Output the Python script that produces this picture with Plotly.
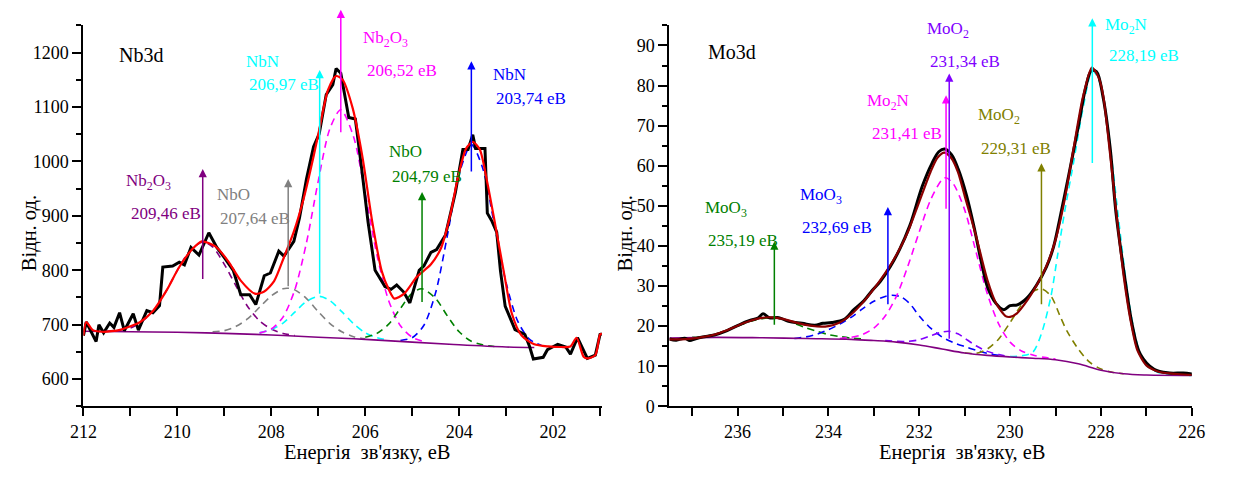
import plotly.graph_objects as go

FONT = "Liberation Serif"

# ---------------- Nb 3d spectrum ----------------
nb_exp_E = [212.0, 211.94, 211.73, 211.67, 211.57, 211.44, 211.35, 211.23, 211.13, 210.94,
            210.83, 210.65, 210.52, 210.38, 210.31, 210.10, 209.96, 209.85, 209.71, 209.54,
            209.33, 209.16, 208.98, 208.81, 208.65, 208.46, 208.33, 208.15, 208.02, 207.84,
            207.73, 207.52, 207.40, 207.25, 207.10, 206.98, 206.83, 206.69, 206.62, 206.52,
            206.35, 206.21, 206.08, 205.94, 205.79, 205.58, 205.45, 205.33, 205.18, 205.05,
            204.85, 204.75, 204.60, 204.48, 204.29, 204.08, 203.92, 203.81, 203.71, 203.65,
            203.45, 203.40, 203.30, 203.20, 203.12, 203.02, 202.81, 202.60, 202.50, 202.42,
            202.21, 202.12, 201.90, 201.73, 201.63, 201.48, 201.27, 201.10, 201.00, 200.96]
nb_exp_I = [680, 705, 669, 700, 685, 703, 695, 722, 689, 720,
            690, 726, 722, 735, 806, 808, 815, 810, 842, 828,
            869, 842, 821, 800, 755, 755, 737, 790, 795, 835,
            826, 853, 896, 968, 1027, 1051, 1123, 1141, 1171, 1162,
            1081, 1078, 990, 889, 800, 770, 765, 773, 760, 740,
            800, 808, 833, 838, 865, 943, 1022, 1022, 1049, 1024,
            1024, 905, 890, 870, 799, 734, 691, 682, 660, 637,
            640, 654, 664, 659, 646, 676, 638, 644, 682, 683]

nb_fit_E = [212.0, 211.94, 211.8, 211.6, 211.4, 211.2, 211.0, 210.79, 210.52, 210.23,
            209.96, 209.69, 209.48, 209.19, 208.92, 208.65, 208.35, 208.15, 207.94, 207.73,
            207.52, 207.31, 207.10, 206.98, 206.79, 206.62, 206.48, 206.27, 206.06, 205.85,
            205.65, 205.50, 205.38, 205.17, 204.90, 204.60, 204.38, 204.19, 204.02, 203.85,
            203.71, 203.56, 203.40, 203.23, 203.04, 202.88, 202.67, 202.40, 202.10, 201.83,
            201.63, 201.50, 201.35, 201.27, 201.10, 201.00, 200.96]
nb_fit_I = [680, 705, 690, 687, 688, 691, 697, 705, 725, 763,
            806, 838, 853, 844, 817, 781, 757, 761, 780, 824,
            871, 932, 1009, 1058, 1132, 1157, 1150, 1099, 1009, 889,
            799, 765, 748, 757, 788, 811, 842, 901, 973, 1024,
            1036, 1022, 961, 883, 793, 721, 680, 664, 660, 659,
            660, 676, 641, 638, 644, 682, 683]

nb_bg_E = [212.0, 211.0, 210.0, 209.0, 208.0, 207.0, 206.0, 205.0, 204.0, 203.0, 202.4]
nb_bg_I = [688, 687, 686, 684, 681, 677, 673, 668, 663, 659, 658]

# fitted components
nb2o3_a_E = [211.5, 211.25, 211.0, 210.75, 210.5, 210.25, 210.0, 209.75, 209.46, 209.25,
             209.0, 208.75, 208.5, 208.25, 208.0, 207.75, 207.5]
nb2o3_a_I = [688, 690, 694, 706, 727, 760, 800, 834, 852, 843,
             811, 771, 733, 707, 692, 684, 680]

nbo_a_E = [209.25, 209.0, 208.75, 208.5, 208.25, 208.0, 207.75, 207.64, 207.5, 207.25,
           207.0, 206.75, 206.5, 206.25, 206.0]
nbo_a_I = [687, 689, 697, 711, 732, 753, 766, 767, 764, 748,
           724, 702, 687, 678, 674]

nbn_a_E = [208.25, 208.0, 207.75, 207.5, 207.25, 206.97, 206.75, 206.5, 206.25, 206.0,
           205.75, 205.5]
nbn_a_I = [685, 691, 703, 723, 743, 752, 744, 724, 702, 685, 676, 672]

nb2o3_b_E = [208.25, 208.0, 207.75, 207.5, 207.25, 207.0, 206.75, 206.52, 206.25, 206.0,
             205.75, 205.5, 205.25, 205.0, 204.75]
nb2o3_b_I = [685, 692, 714, 764, 851, 964, 1061, 1095, 1046, 941,
             828, 744, 698, 677, 669]

nbo_b_E = [206.0, 205.75, 205.5, 205.25, 205.0, 204.79, 204.5, 204.25, 204.0, 203.75,
           203.5, 203.25]
nbo_b_I = [677, 684, 701, 730, 758, 766, 748, 716, 687, 670, 663, 660]

nbn_b_E = [205.25, 205.0, 204.75, 204.5, 204.25, 204.0, 203.74, 203.5, 203.25, 203.0,
           202.75, 202.5, 202.25]
nbn_b_I = [671, 676, 699, 759, 864, 977, 1031, 988, 884, 777, 706, 673, 662]

nb_names = ["Nb<sub>2</sub>O<sub>3</sub>", "NbO", "NbN", "Nb<sub>2</sub>O<sub>3</sub>", "NbO", "NbN"]
nb_peaks = [209.46, 207.64, 206.97, 206.52, 204.79, 203.74]
nb_arrow_low = [781, 768, 754, 1051, 739, 979]
nb_arrow_high = [986, 968, 1168, 1279, 944, 1184]
nb_colors = ["#800080", "#808080", "#00ffff", "#ff00ff", "#008000", "#0000ff"]
nb_components = [(nb2o3_a_E, nb2o3_a_I), (nbo_a_E, nbo_a_I), (nbn_a_E, nbn_a_I),
                 (nb2o3_b_E, nb2o3_b_I), (nbo_b_E, nbo_b_I), (nbn_b_E, nbn_b_I)]
# label anchor (energy, intensity) for the name and the value lines
nb_name_pos = [(211.13, 962), (209.19, 939), (208.58, 1184), (206.10, 1225), (205.54, 1018), (203.33, 1159)]
nb_value_pos = [(211.02, 905), (209.13, 896), (208.52, 1141), (206.00, 1168), (205.48, 973), (203.25, 1115)]

nb_xticks = [212, 210, 208, 206, 204, 202]
nb_yticks = [600, 700, 800, 900, 1000, 1100, 1200]

# ---------------- Mo 3d spectrum ----------------
mo_exp_E = [237.5, 237.35, 237.16, 237.05, 236.94, 236.77, 236.51, 236.23, 235.95, 235.73,
            235.54, 235.44, 235.30, 235.09, 234.88, 234.58, 234.30, 234.12, 233.93, 233.65,
            233.44, 233.22, 233.05, 232.86, 232.64, 232.43, 232.21, 231.93, 231.72, 231.57,
            231.44, 231.29, 231.14, 230.96, 230.79, 230.64, 230.49, 230.32, 230.14, 230.00,
            229.84, 229.63, 229.42, 229.20, 229.05, 228.92, 228.70, 228.49, 228.34, 228.21,
            228.10, 227.95, 227.80, 227.67, 227.48, 227.31, 227.13, 226.83, 226.49, 226.19,
            225.95]
mo_exp_I = [16.8, 16.5, 17.0, 16.4, 16.8, 17.3, 17.8, 18.9, 20.4, 21.4,
            22.1, 23.1, 22.1, 22.1, 21.2, 20.7, 20.2, 20.7, 20.9, 21.7,
            24.1, 26.3, 28.7, 31.1, 34.8, 39.2, 45.0, 55.0, 60.6, 63.5,
            64.2, 62.8, 59.1, 52.6, 44.5, 36.3, 29.5, 25.8, 24.1, 25.1,
            25.3, 27.0, 30.2, 34.8, 39.5, 46.0, 58.2, 70.3, 79.3, 83.7,
            83.5, 76.9, 64.7, 48.4, 32.4, 20.2, 12.9, 9.2, 8.3, 8.3,
            8.0]

mo_fit_E = [237.5, 237.25, 237.0, 236.75, 236.5, 236.25, 236.0, 235.75, 235.5, 235.25,
            235.0, 234.75, 234.5, 234.25, 234.0, 233.75, 233.5, 233.25, 233.0, 232.75,
            232.5, 232.25, 232.0, 231.75, 231.6, 231.45, 231.3, 231.15, 231.0, 230.75,
            230.5, 230.3, 230.1, 230.0, 229.85, 229.6, 229.4, 229.2, 229.0, 228.8,
            228.6, 228.4, 228.2, 228.05, 227.95, 227.8, 227.65, 227.5, 227.35, 227.2,
            227.0, 226.75, 226.5, 226.25, 226.0]
mo_fit_I = [16.7, 16.7, 16.9, 17.3, 17.9, 18.9, 20.1, 21.2, 22.0, 22.2,
            21.8, 21.0, 20.3, 19.9, 20.0, 20.9, 22.9, 25.8, 29.3, 33.2,
            37.8, 43.5, 51.0, 58.5, 62.0, 63.3, 62.0, 58.5, 52.5, 42.5,
            31.5, 25.5, 22.5, 22.3, 23.2, 26.8, 30.5, 35.0, 41.5, 51.5,
            64.5, 77.0, 84.5, 82.0, 77.5, 63.0, 47.0, 32.5, 21.5, 14.0,
            10.2, 8.7, 8.2, 8.0, 7.8]

mo_bg_E = [237.5, 236.5, 235.5, 234.5, 233.5, 233.0, 232.5, 232.0, 231.5, 231.0,
           230.5, 230.0, 229.5, 229.0, 228.5, 228.0, 227.5, 227.0, 226.0]
mo_bg_I = [17.0, 17.2, 17.1, 16.9, 16.7, 16.4, 16.0, 15.3, 14.3, 13.3,
           12.7, 12.3, 12.0, 11.6, 10.6, 9.0, 8.1, 7.8, 7.7]

moo3_a_E = [237.0, 236.75, 236.5, 236.25, 236.0, 235.75, 235.5, 235.25, 235.0, 234.75,
            234.5, 234.25, 234.0, 233.75, 233.5, 233.25]
moo3_a_I = [17.2, 17.4, 17.9, 18.9, 20.0, 21.1, 21.8, 22.1, 21.7, 20.7,
            19.6, 18.7, 17.9, 17.4, 17.0, 16.8]

moo3_b_E = [234.75, 234.5, 234.25, 234.0, 233.75, 233.5, 233.25, 233.0, 232.75, 232.6,
            232.4, 232.2, 232.0, 231.75, 231.5, 231.25, 231.0, 230.75, 230.5, 230.25]
moo3_b_I = [16.9, 17.3, 18.0, 19.1, 20.5, 22.2, 24.3, 26.2, 27.4, 27.7,
            27.3, 25.5, 22.5, 19.5, 17.3, 15.9, 14.9, 14.0, 13.2, 12.7]

mo2n_a_E = [233.75, 233.5, 233.25, 233.0, 232.75, 232.5, 232.25, 232.0, 231.75, 231.5,
            231.41, 231.25, 231.0, 230.75, 230.5, 230.25, 230.0, 229.75, 229.5, 229.25, 229.0]
mo2n_a_I = [16.9, 17.2, 17.9, 19.5, 22.5, 27.5, 35.0, 43.5, 51.5, 56.5,
            57.0, 55.5, 49.0, 38.5, 28.0, 20.5, 16.0, 13.8, 12.8, 12.2, 11.8]

moo2_a_E = [232.75, 232.5, 232.25, 232.0, 231.75, 231.5, 231.34, 231.15, 231.0, 230.75,
            230.5, 230.25, 230.0]
moo2_a_I = [16.4, 16.2, 16.2, 16.6, 17.6, 18.5, 18.7, 18.1, 17.0, 15.1,
            13.7, 12.9, 12.4]

moo2_b_E = [231.0, 230.75, 230.5, 230.25, 230.0, 229.75, 229.5, 229.31, 229.1, 228.9,
            228.75, 228.5, 228.25, 228.0, 227.75, 227.5]
moo2_b_I = [13.3, 13.2, 14.3, 16.8, 20.9, 25.3, 28.6, 29.3, 27.5, 22.5,
            18.8, 14.3, 11.0, 9.3, 8.5, 8.1]

mo2n_b_E = [230.0, 229.75, 229.5, 229.3, 229.1, 228.95, 228.8, 228.6, 228.4, 228.19,
            228.05, 227.9, 227.75, 227.6, 227.45, 227.3, 227.15, 227.0, 226.75, 226.5,
            226.25, 226.0]
mo2n_b_I = [12.4, 12.6, 13.5, 18.5, 27.5, 38.0, 48.5, 61.0, 74.0, 83.8,
            81.5, 74.0, 60.5, 45.5, 31.5, 20.5, 13.5, 10.2, 8.5, 8.0,
            7.8, 7.7]

mo_names = ["MoO<sub>3</sub>", "MoO<sub>3</sub>", "Mo<sub>2</sub>N", "MoO<sub>2</sub>", "MoO<sub>2</sub>", "Mo<sub>2</sub>N"]
mo_peaks = [235.19, 232.69, 231.41, 231.34, 229.31, 228.19]
mo_arrow_low = [20.0, 25.1, 48.9, 16.5, 25.1, 60.3]
mo_arrow_high = [41.1, 49.7, 77.6, 83.0, 60.6, 96.8]
mo_colors = ["#008000", "#0000ff", "#ff00ff", "#8000ff", "#808000", "#00ffff"]
mo_components = [(moo3_a_E, moo3_a_I), (moo3_b_E, moo3_b_I), (mo2n_a_E, mo2n_a_I),
                 (moo2_a_E, moo2_a_I), (moo2_b_E, moo2_b_I), (mo2n_b_E, mo2n_b_I)]
mo_name_pos = [(236.75, 49.3), (234.68, 52.5), (233.20, 75.8), (231.87, 93.8), (230.75, 72.4), (227.95, 94.8)]
mo_value_pos = [(236.70, 41.4), (234.62, 44.5), (233.09, 68.1), (231.80, 85.9), (230.68, 64.2), (227.87, 87.6)]

mo_xticks = [236, 234, 232, 230, 228, 226]
mo_yticks = [0, 10, 20, 30, 40, 50, 60, 70, 80, 90]


def energy_text(e):
    return f"{e:.2f}".replace(".", ",") + " eB"


def serif(size, color="black"):
    return dict(family=FONT, size=size, color=color)


fig = go.Figure()
annotations = []


def add_panel(xa, ya, comps, colors, bg, exp, fit, fit_color, exp_shape,
              names, peaks, lows, highs, name_pos, value_pos):
    for (ce, ci), col in zip(comps, colors):
        fig.add_trace(go.Scatter(x=ce, y=ci, mode="lines", xaxis=xa, yaxis=ya,
                                 line=dict(color=col, width=1.6, dash="7px,5px",
                                           shape="spline", smoothing=0.8),
                                 hoverinfo="skip"))
    fig.add_trace(go.Scatter(x=bg[0], y=bg[1], mode="lines", xaxis=xa, yaxis=ya,
                             line=dict(color="#800080", width=1.6, shape="spline"),
                             hoverinfo="skip"))
    fig.add_trace(go.Scatter(x=exp[0], y=exp[1], mode="lines", xaxis=xa, yaxis=ya,
                             line=dict(color="black", width=3, shape=exp_shape),
                             hoverinfo="skip"))
    fig.add_trace(go.Scatter(x=fit[0], y=fit[1], mode="lines", xaxis=xa, yaxis=ya,
                             line=dict(color=fit_color, width=2.2, shape="spline", smoothing=0.7),
                             hoverinfo="skip"))
    for name, e, lo, hi, col, npos, vpos in zip(names, peaks, lows, highs, colors, name_pos, value_pos):
        # peak marker: vertical arrow from the curve region up to the label
        annotations.append(dict(x=e, y=hi, ax=e, ay=lo, xref=xa, yref=ya, axref=xa, ayref=ya,
                                text="", showarrow=True, arrowhead=2, arrowsize=1.1,
                                arrowwidth=1.5, arrowcolor=col, standoff=0))
        annotations.append(dict(x=npos[0], y=npos[1], xref=xa, yref=ya, text=name,
                                showarrow=False, xanchor="left", yanchor="middle",
                                font=serif(17, col)))
        annotations.append(dict(x=vpos[0], y=vpos[1], xref=xa, yref=ya, text=energy_text(e),
                                showarrow=False, xanchor="left", yanchor="middle",
                                font=serif(17, col)))


add_panel("x", "y", nb_components, nb_colors, (nb_bg_E, nb_bg_I), (nb_exp_E, nb_exp_I),
          (nb_fit_E, nb_fit_I), "#ff0000", "linear",
          nb_names, nb_peaks, nb_arrow_low, nb_arrow_high, nb_name_pos, nb_value_pos)
add_panel("x2", "y2", mo_components, mo_colors, (mo_bg_E, mo_bg_I), (mo_exp_E, mo_exp_I),
          (mo_fit_E, mo_fit_I), "#8b0000", "spline",
          mo_names, mo_peaks, mo_arrow_low, mo_arrow_high, mo_name_pos, mo_value_pos)

# panel titles
annotations.append(dict(x=211.29, y=1196, xref="x", yref="y", text="Nb3d", showarrow=False,
                        xanchor="left", yanchor="middle", font=serif(20)))
annotations.append(dict(x=236.70, y=88.3, xref="x2", yref="y2", text="Mo3d", showarrow=False,
                        xanchor="left", yanchor="middle", font=serif(20)))

# axis titles
xtitle = "Енергія\u00a0 зв'язку, еВ"
ytitle = "Відн. од."
for xp in (0.2915, 0.7818):
    annotations.append(dict(x=xp, y=0.031, xref="paper", yref="paper", text=xtitle, showarrow=False,
                            xanchor="center", yanchor="middle", font=serif(20.5)))
for xp in (0.0137, 0.5045):
    annotations.append(dict(x=xp, y=0.50, xref="paper", yref="paper", text=ytitle, showarrow=False,
                            textangle=-90, xanchor="center", yanchor="middle", font=serif(20.5)))


def axis(**kw):
    base = dict(showline=True, linecolor="black", linewidth=2, ticks="outside",
                tickcolor="black", tickwidth=2, showgrid=False, zeroline=False,
                tickfont=serif(18), mirror=False)
    base.update(kw)
    return base


fig.update_layout(
    width=1242, height=477,
    margin=dict(l=0, r=0, t=0, b=0),
    paper_bgcolor="white", plot_bgcolor="white",
    showlegend=False,
    font=serif(18),
    xaxis=axis(domain=[0.05797, 0.4847], range=[212, 200.96], anchor="y",
               tickvals=nb_xticks, ticklen=8,
               minor=dict(dtick=1, tick0=201, ticklen=8, tickwidth=2, tickcolor="black", ticks="outside")),
    yaxis=axis(domain=[0.12998, 0.94549], range=[550, 1250], anchor="x",
               tickvals=nb_yticks, ticklen=9,
               minor=dict(dtick=50, tick0=550, ticklen=5, tickwidth=2, tickcolor="black", ticks="outside")),
    xaxis2=axis(domain=[0.54026, 0.97021], range=[237.5, 226], anchor="y2",
                tickvals=mo_xticks, ticklen=8,
                minor=dict(dtick=1, tick0=227, ticklen=8, tickwidth=2, tickcolor="black", ticks="outside")),
    yaxis2=axis(domain=[0.12998, 0.94549], range=[0, 95], anchor="x2",
                tickvals=mo_yticks, ticklen=9,
                minor=dict(dtick=5, tick0=0, ticklen=5, tickwidth=2, tickcolor="black", ticks="outside")),
    annotations=annotations,
)

fig.write_html("out.html")
